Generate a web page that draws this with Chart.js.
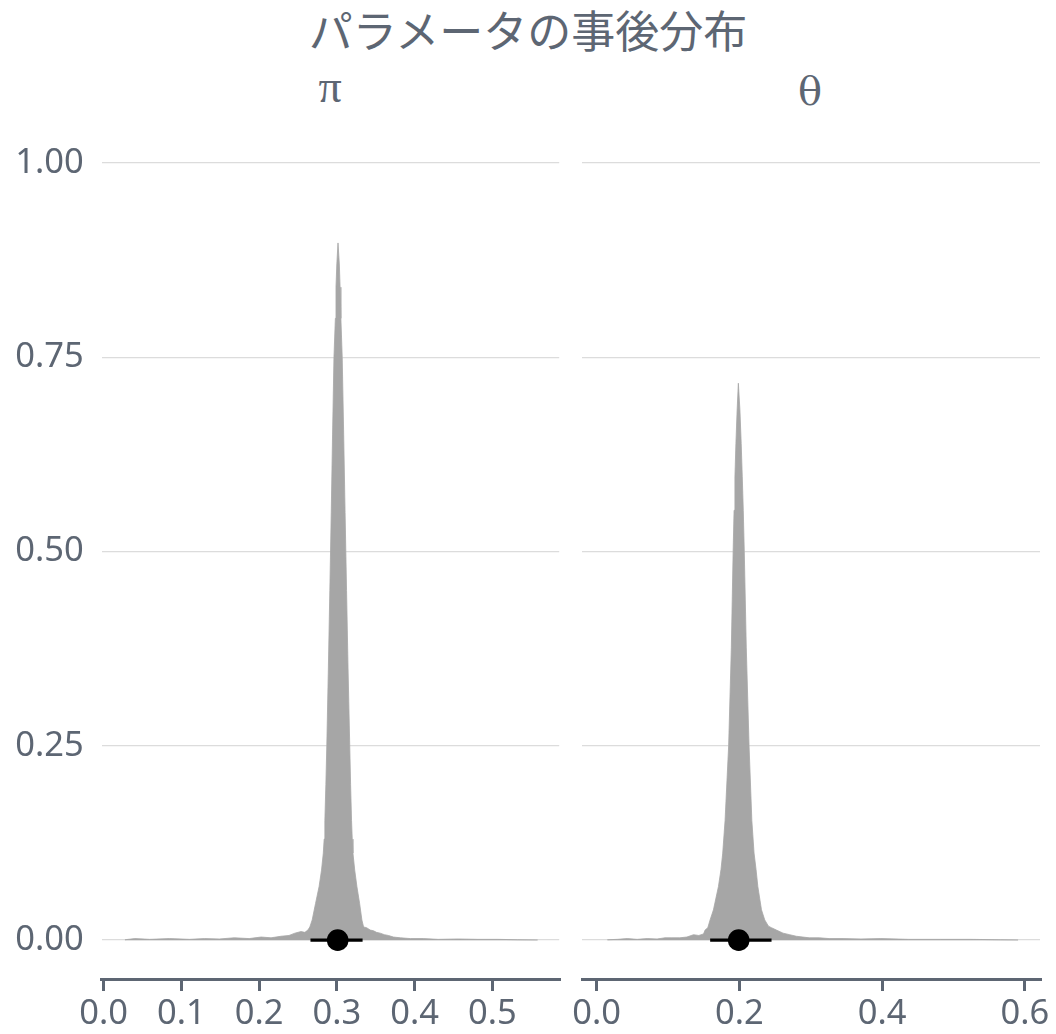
<!DOCTYPE html>
<html>
<head>
<meta charset="utf-8">
<script src="https://cdn.jsdelivr.net/npm/chart.js@4.4.1/dist/chart.umd.min.js"></script>
<style>
  html, body { margin: 0; padding: 0; background: #ffffff; }
  #wrap { position: relative; width: 1056px; height: 1034px; overflow: hidden; background: #fff; }
  canvas { position: absolute; top: 0; }
  .txt { position: absolute; color: #5d6673; text-align: center; white-space: nowrap; }
  #title { left: 0; width: 1056px; top: 7px; font-family: "Noto Sans CJK JP", sans-serif; font-size: 44px; line-height: 44px; }
  .strip { width: 200px; }
  #s1 { top: 64px; font-family: "Liberation Serif", serif; font-size: 46px; line-height: 46px; }
  #s2 { top: 71px; font-family: "DejaVu Serif", serif; font-size: 40px; line-height: 40px; }
</style>
</head>
<body>
<div id="wrap">
  <div id="title" class="txt">パラメータの事後分布</div>
  <div id="s1" class="txt strip" style="left:230px">π</div>
  <div id="s2" class="txt strip" style="left:710px">θ</div>
  <canvas id="c1" width="570" height="1034" style="left:0px"></canvas>
  <canvas id="c2" width="486" height="1034" style="left:570px"></canvas>
</div>
<script>
// ---- data ----
const panelLabels = ['π', 'θ'];
const yTicks = [0, 0.25, 0.5, 0.75, 1.0];
const piXTicks = [0, 0.1, 0.2, 0.3, 0.4, 0.5];
const thetaXTicks = [0, 0.2, 0.4, 0.6];

const piX = [0.0274, 0.0402, 0.0593, 0.0849, 0.1105, 0.1297, 0.1488, 0.1680, 0.1872, 0.2026, 0.2153, 0.2281, 0.2384, 0.2460, 0.2537, 0.2588, 0.2627,
  0.2652, 0.2682, 0.2725, 0.2771, 0.2802, 0.2825, 0.2836, 0.2845, 0.2858, 0.2870, 0.2890, 0.2909, 0.2927, 0.2944, 0.2962, 0.2980, 0.2988, 0.2999, 0.3014,
  0.3031, 0.3041, 0.3051, 0.3068, 0.3087, 0.3105, 0.3124, 0.3143, 0.3165, 0.3176, 0.3188, 0.3197, 0.3206, 0.3229, 0.3257, 0.3292, 0.3321, 0.3343,
  0.3381, 0.3428, 0.3471, 0.3509, 0.3556, 0.3611, 0.3662, 0.3726, 0.3816, 0.3944, 0.4110, 0.4302, 0.4558, 0.4813, 0.5069, 0.5325, 0.5581];
const piDensity = [0.0005, 0.002, 0.001, 0.002, 0.001, 0.002, 0.0015, 0.003, 0.002, 0.004, 0.003, 0.005, 0.006, 0.009, 0.011, 0.010, 0.013,
  0.017, 0.026, 0.047, 0.069, 0.090, 0.112, 0.130, 0.154, 0.200, 0.250, 0.350, 0.450, 0.550, 0.650, 0.750, 0.800, 0.840, 0.870, 0.897,
  0.870, 0.840, 0.800, 0.750, 0.650, 0.550, 0.450, 0.350, 0.250, 0.200, 0.154, 0.130, 0.112, 0.090, 0.069, 0.047, 0.026, 0.017,
  0.016, 0.013, 0.012, 0.010, 0.009, 0.007, 0.006, 0.004, 0.003, 0.002, 0.002, 0.001, 0.0015, 0.001, 0.001, 0.0005, 0.0003];

const thetaX = [0.0149, 0.0289, 0.0428, 0.0567, 0.0707, 0.0846, 0.0957, 0.1055, 0.1166, 0.1264, 0.1357, 0.1431, 0.1497, 0.1519, 0.1557,
  0.1589, 0.1636, 0.1706, 0.1742, 0.1766, 0.1799, 0.1849, 0.1887, 0.1912, 0.1925, 0.1937, 0.1951, 0.1968, 0.1985,
  0.2007, 0.2025, 0.2040, 0.2054, 0.2068, 0.2096, 0.2135, 0.2174, 0.2205, 0.2233, 0.2258, 0.2309, 0.2355,
  0.2407, 0.2449, 0.2518, 0.2612, 0.2704, 0.2797, 0.2978, 0.3118, 0.3257, 0.3452, 0.3703, 0.3981, 0.4372, 0.4818, 0.5236, 0.5654, 0.5905];
const thetaDensity = [0.0005, 0.001, 0.002, 0.001, 0.002, 0.0015, 0.003, 0.003, 0.003, 0.004, 0.007, 0.006, 0.008, 0.013, 0.016,
  0.026, 0.039, 0.069, 0.091, 0.112, 0.154, 0.250, 0.377, 0.500, 0.553, 0.596, 0.639, 0.682, 0.7165,
  0.682, 0.639, 0.596, 0.553, 0.500, 0.377, 0.250, 0.154, 0.112, 0.091, 0.069, 0.039, 0.026,
  0.018, 0.016, 0.013, 0.009, 0.007, 0.005, 0.003, 0.003, 0.002, 0.002, 0.0015, 0.002, 0.001, 0.001, 0.001, 0.0005, 0.0003];

const piInterval = [0.266, 0.333];
const piMedian = 0.301;
const thetaInterval = [0.159, 0.245];
const thetaMedian = 0.199;

// ---- styling ----
const TEXT = '#5d6673';
const GRID = '#dcdcdc';
const SLAB = '#a6a6a6';
const FONT = { family: 'Noto Sans', size: 34.5 };

function makePanel(canvasId, xs, ys, xTicks, xMin, xMax, interval, median, showY, pad) {
  const density = xs.map((x, i) => ({ x: x, y: ys[i] }));
  return new Chart(document.getElementById(canvasId), {
    type: 'line',
    data: {
      datasets: [
        { type: 'scatter', data: [{ x: median, y: 0 }], pointRadius: 10.8, pointHoverRadius: 10.8,
          backgroundColor: '#000', borderColor: '#000', borderWidth: 0, order: 0 },
        { type: 'line', data: interval.map(v => ({ x: v, y: 0 })), borderColor: '#000', borderWidth: 3.4,
          pointRadius: 0, fill: false, order: 1 },
        { type: 'line', data: density, borderColor: SLAB, backgroundColor: SLAB, borderWidth: 0.8,
          pointRadius: 0, fill: 'origin', tension: 0, order: 2 }
      ]
    },
    options: {
      responsive: false,
      animation: false,
      devicePixelRatio: 1,
      layout: { padding: pad },
      plugins: { legend: { display: false }, tooltip: { enabled: false }, title: { display: false } },
      scales: {
        x: {
          type: 'linear', min: xMin, max: xMax,
          afterBuildTicks: s => { s.ticks = xTicks.map(v => ({ value: v })); },
          afterFit: s => { s.height = 55; },
          border: { display: true, color: TEXT, width: 3 },
          grid: { display: true, drawOnChartArea: false, drawTicks: true, tickLength: 12, color: TEXT, lineWidth: 3 },
          ticks: { color: TEXT, font: FONT, padding: 2, autoSkip: false, maxRotation: 0,
                   callback: v => Number(v).toFixed(1) }
        },
        y: {
          type: 'linear', min: -0.05, max: 1.05,
          afterBuildTicks: s => { s.ticks = yTicks.map(v => ({ value: v })); },
          afterFit: s => { s.width = showY ? 101.8 : 10; },
          border: { display: false },
          grid: { display: true, drawTicks: false, color: GRID, lineWidth: 1.3 },
          ticks: { display: showY, color: TEXT, font: FONT, padding: 18,
                   callback: v => Number(v).toFixed(2) }
        }
      }
    }
  });
}

makePanel('c1', piX, piDensity, piXTicks, -0.0023, 0.5858, piInterval, piMedian, true,
  { top: 124, right: 8.3, bottom: 0, left: 0 });
makePanel('c2', thetaX, thetaDensity, thetaXTicks, -0.0199, 0.6212, thetaInterval, thetaMedian, false,
  { top: 124, right: 16, bottom: 0, left: 0 });
</script>
</body>
</html>
